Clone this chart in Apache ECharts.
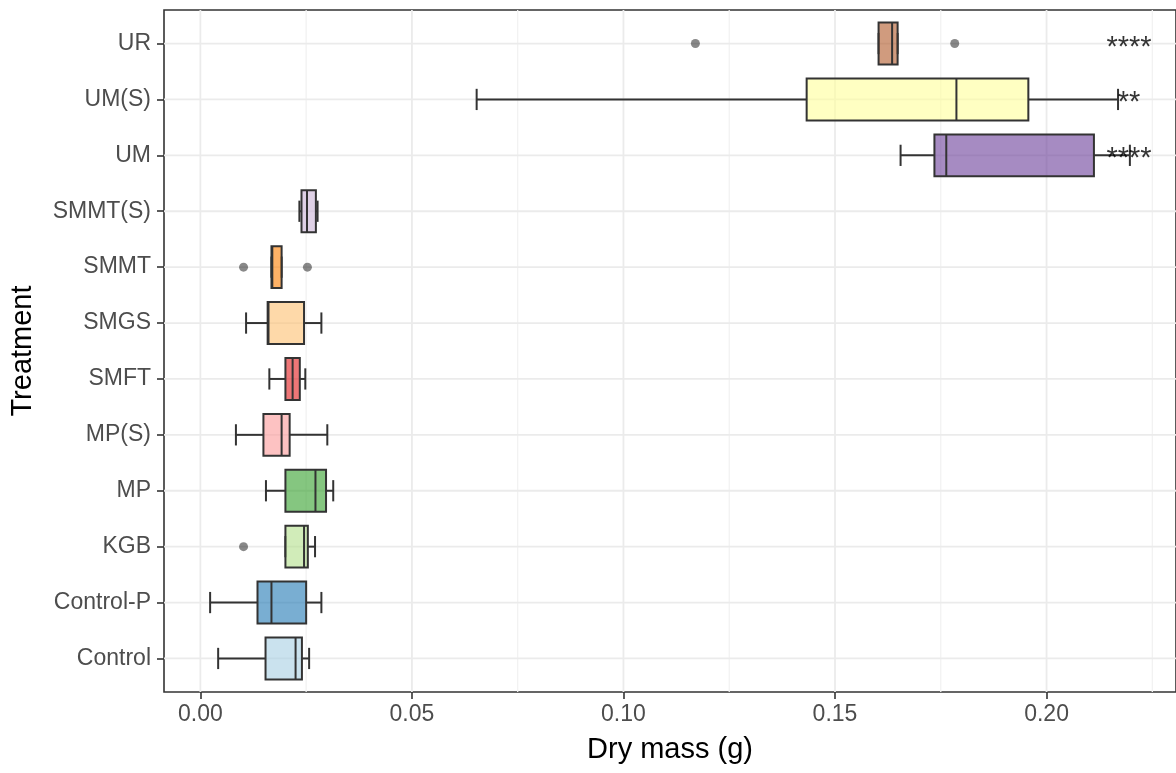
<!DOCTYPE html>
<html>
<head>
<meta charset="utf-8">
<script src="https://cdn.jsdelivr.net/npm/echarts@6/dist/echarts.min.js"></script>
<style>
  html, body { margin: 0; padding: 0; background: #ffffff; }
  #chart { width: 1176px; height: 773px; }
</style>
</head>
<body>
<div id="chart"></div>
<script>
// Treatments, bottom to top on the y axis
const treatments = ['Control', 'Control-P', 'KGB', 'MP', 'MP(S)', 'SMFT', 'SMGS', 'SMMT', 'SMMT(S)', 'UM', 'UM(S)', 'UR'];

// Box summaries per treatment (dry mass, g)
const whiskerLow  = [0.0042, 0.0023, 0.0201, 0.0155, 0.0084, 0.0163, 0.0108, 0.0168, 0.0234, 0.1655, 0.0653, 0.1603];
const quartile1   = [0.0154, 0.0135, 0.0201, 0.0201, 0.0149, 0.0201, 0.0159, 0.0168, 0.0239, 0.1735, 0.1433, 0.1603];
const medians     = [0.0225, 0.0168, 0.0245, 0.0272, 0.0192, 0.0218, 0.0161, 0.0170, 0.0252, 0.1763, 0.1787, 0.1635];
const quartile3   = [0.0240, 0.0250, 0.0254, 0.0297, 0.0211, 0.0235, 0.0245, 0.0192, 0.0273, 0.2112, 0.1957, 0.1648];
const whiskerHigh = [0.0257, 0.0286, 0.0271, 0.0314, 0.0300, 0.0248, 0.0286, 0.0192, 0.0277, 0.2197, 0.2169, 0.1648];

// Outlying observations
const outlierTreatment = ['KGB', 'SMMT', 'SMMT', 'UR', 'UR'];
const outlierValue     = [0.0102, 0.0102, 0.0253, 0.1170, 0.1783];

// Significance marks
const signifTreatment = ['UM', 'UM(S)', 'UR'];
const signifLabel     = ['****', '**', '****'];
const signifAt        = 0.2195;

// Axis ticks and grid
const xTicks      = [0, 0.05, 0.10, 0.15, 0.20];
const xMinorGrid  = [0.025, 0.075, 0.125, 0.175, 0.225];

// Paired palette, one fill per treatment
const fills = ['#A6CEE3', '#1F78B4', '#B2DF8A', '#33A02C', '#FB9A99', '#E31A1C',
               '#FDBF6F', '#FF7F00', '#CAB2D6', '#6A3D9A', '#FFFF99', '#B15928'];
const fillAlpha = 0.6;

function withAlpha(hex, a) {
  const n = parseInt(hex.slice(1), 16);
  return 'rgba(' + ((n >> 16) & 255) + ',' + ((n >> 8) & 255) + ',' + (n & 255) + ',' + a + ')';
}

const idxOf = name => treatments.indexOf(name);
const catIdx = treatments.map((_, i) => i);

const boxData = treatments.map((t, i) => [i, whiskerLow[i], quartile1[i], medians[i], quartile3[i], whiskerHigh[i]]);
const outlierData = outlierTreatment.map((t, i) => [outlierValue[i], idxOf(t)]);
const signifData = signifTreatment.map((t, i) => ({ value: [signifAt, idxOf(t)], label: { formatter: signifLabel[i] } }));

const FONT = 'Liberation Sans, Arial, sans-serif';
const INK = '#333333';

function renderVGrid(major) {
  return function (params, api) {
    const cs = params.coordSys;
    const x = api.coord([api.value(0), 0])[0];
    return {
      type: 'line',
      shape: { x1: x, y1: cs.y, x2: x, y2: cs.y + cs.height },
      style: { stroke: major ? '#EBEBEB' : '#F2F2F2', lineWidth: major ? 1.8 : 1.3 },
      silent: true
    };
  };
}

function renderHGrid(params, api) {
  const cs = params.coordSys;
  const y = api.coord([0, api.value(1)])[1];
  return {
    type: 'line',
    shape: { x1: cs.x, y1: y, x2: cs.x + cs.width, y2: y },
    style: { stroke: '#EBEBEB', lineWidth: 1.8 },
    silent: true
  };
}

function renderBox(params, api) {
  const i = api.value(0);
  const band = api.size([0, 1])[1];
  const halfBox = band * 0.375;
  const halfCap = band * 0.19;
  const xs = [1, 2, 3, 4, 5].map(d => api.coord([api.value(d), i])[0]);
  const y = api.coord([0, i])[1];
  const ln = { stroke: INK, lineWidth: 2 };
  return {
    type: 'group',
    children: [
      { type: 'line', shape: { x1: xs[0], y1: y, x2: xs[1], y2: y }, style: ln },
      { type: 'line', shape: { x1: xs[3], y1: y, x2: xs[4], y2: y }, style: ln },
      { type: 'line', shape: { x1: xs[0], y1: y - halfCap, x2: xs[0], y2: y + halfCap }, style: ln },
      { type: 'line', shape: { x1: xs[4], y1: y - halfCap, x2: xs[4], y2: y + halfCap }, style: ln },
      { type: 'rect', shape: { x: xs[1], y: y - halfBox, width: xs[3] - xs[1], height: halfBox * 2 },
        style: { fill: withAlpha(fills[i], fillAlpha), stroke: INK, lineWidth: 2 } },
      { type: 'line', shape: { x1: xs[2], y1: y - halfBox, x2: xs[2], y2: y + halfBox }, style: ln }
    ]
  };
}

const chart = echarts.init(document.getElementById('chart'), null, { renderer: 'canvas' });

chart.setOption({
  backgroundColor: '#ffffff',
  animation: false,
  textStyle: { fontFamily: FONT },
  grid: {
    left: 163, top: 10, width: 1017, height: 682,
    show: true, borderColor: INK, borderWidth: 1.6, backgroundColor: 'transparent',
    containLabel: false
  },
  xAxis: {
    type: 'value',
    min: -0.0086, max: 0.2306,
    axisLine: { show: false, onZero: false },
    splitLine: { show: false },
    axisTick: { show: true, customValues: xTicks, length: 7, lineStyle: { color: INK, width: 1.6 } },
    axisLabel: {
      show: true, customValues: xTicks, margin: 11,
      color: '#4D4D4D', fontSize: 23, fontFamily: FONT,
      formatter: v => Number(v).toFixed(2)
    },
    name: 'Dry mass (g)', nameLocation: 'middle', nameGap: 43,
    nameTextStyle: { color: '#000000', fontSize: 29, fontFamily: FONT }
  },
  yAxis: {
    type: 'value',
    min: -0.6, max: 11.6,
    axisLine: { show: false, onZero: false },
    splitLine: { show: false },
    axisTick: { show: true, customValues: catIdx, length: 7, lineStyle: { color: INK, width: 1.6 } },
    axisLabel: {
      show: true, customValues: catIdx, margin: 13,
      color: '#4D4D4D', fontSize: 23, fontFamily: FONT,
      formatter: v => treatments[Math.round(v)]
    },
    name: 'Treatment', nameLocation: 'middle', nameGap: 127, nameRotate: 90,
    nameTextStyle: { color: '#000000', fontSize: 29, fontFamily: FONT }
  },
  series: [
    {
      type: 'custom', name: 'minor grid', renderItem: renderVGrid(false), z: 1, silent: true,
      data: xMinorGrid.map(v => [v, 0]), encode: { x: 0, y: 1 }
    },
    {
      type: 'custom', name: 'major grid x', renderItem: renderVGrid(true), z: 1, silent: true,
      data: xTicks.map(v => [v, 0]), encode: { x: 0, y: 1 }
    },
    {
      type: 'custom', name: 'major grid y', renderItem: renderHGrid, z: 1, silent: true,
      data: catIdx.map(i => [0, i]), encode: { x: 0, y: 1 }
    },
    {
      type: 'custom', name: 'boxes', renderItem: renderBox, z: 3,
      data: boxData, encode: { x: [1, 2, 3, 4, 5], y: 0 }
    },
    {
      type: 'scatter', name: 'outliers', z: 4,
      symbol: 'circle', symbolSize: 9,
      itemStyle: { color: 'rgba(0,0,0,0.58)' },
      data: outlierData
    },
    {
      type: 'scatter', name: 'significance', z: 5,
      symbolSize: 0,
      label: {
        show: true, position: 'inside', offset: [0, 4],
        color: '#000000', fontSize: 29, fontFamily: FONT
      },
      data: signifData
    }
  ]
});
</script>
</body>
</html>
